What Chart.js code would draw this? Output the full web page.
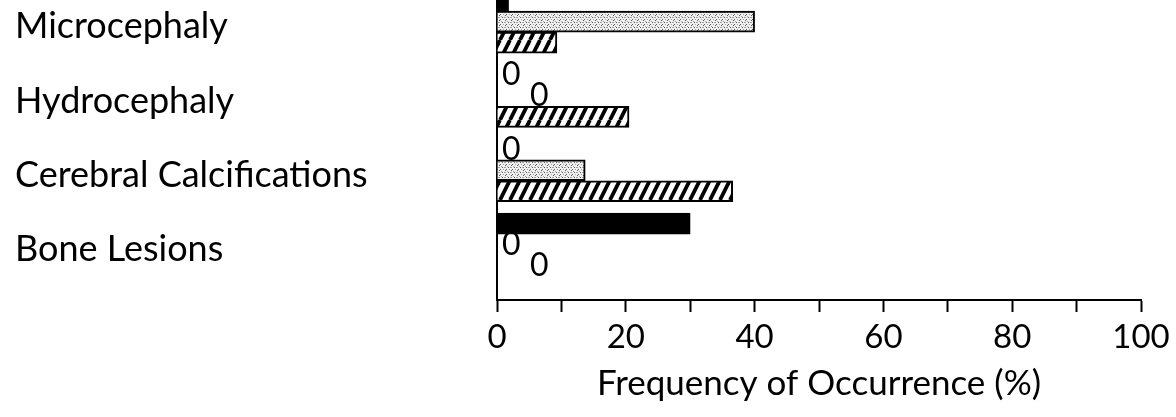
<!DOCTYPE html>
<html>
<head>
<meta charset="utf-8">
<script src="https://cdn.jsdelivr.net/npm/chart.js@4/dist/chart.umd.min.js"></script>
<style>
  html, body { margin: 0; padding: 0; background: #fff; }
  #wrap { width: 1176px; height: 417px; }
</style>
</head>
<body>
<div id="wrap"><canvas id="chart" width="1176" height="417"></canvas></div>
<script>
'use strict';

// categories, top to bottom
var categories = ['Microcephaly', 'Hydrocephaly', 'Cerebral Calcifications', 'Bone Lesions'];

// three series per category (solid, stippled, hatched), % occurrence
var solidValues = [1.8, 0, 0, 30];
var stippledValues = [40, 0, 13.7, 0];
var hatchedValues = [9.3, 20.5, 36.6, 0];

var xTicks = [0, 20, 40, 60, 80, 100];

var FONT = 'Lato';
var INK = '#000';

// light speckled texture
function stipplePattern() {
  var c = document.createElement('canvas');
  c.width = 6; c.height = 5;
  var g = c.getContext('2d');
  g.fillStyle = '#f0f0f0';
  g.fillRect(0, 0, 6, 5);
  g.fillStyle = '#5a5a5a';
  g.fillRect(1, 0, 1, 1);
  g.fillRect(4, 2, 1, 1);
  g.fillRect(2, 4, 1, 1);
  g.fillStyle = '#a0a0a0';
  g.fillRect(0, 2, 2, 1);
  g.fillRect(3, 1, 1, 1);
  g.fillRect(5, 4, 1, 1);
  return g.createPattern(c, 'repeat');
}

// "/" diagonal hatch
function hatchPattern() {
  var c = document.createElement('canvas');
  c.width = 10; c.height = 20;
  var g = c.getContext('2d');
  g.fillStyle = '#fff';
  g.fillRect(0, 0, 10, 20);
  g.strokeStyle = '#000';
  g.lineWidth = 3.8;
  [-10, 0, 10].forEach(function (dx) {
    g.beginPath();
    g.moveTo(dx, 20);
    g.lineTo(dx + 10, 0);
    g.stroke();
  });
  return g.createPattern(c, 'repeat');
}

// writes "0" next to the axis for empty bars
var zeroLabels = {
  id: 'zeroLabels',
  afterDatasetsDraw: function (chart) {
    var ctx = chart.ctx;
    var x0 = chart.scales.x.getPixelForValue(0);
    var counts = {};
    ctx.save();
    ctx.font = '32px ' + FONT;
    ctx.fillStyle = INK;
    ctx.textAlign = 'left';
    ctx.textBaseline = 'middle';
    chart.data.datasets.forEach(function (ds, di) {
      var meta = chart.getDatasetMeta(di);
      ds.data.forEach(function (v, i) {
        if (v !== 0) return;
        var k = counts[i] || 0;
        counts[i] = k + 1;
        ctx.fillText('0', x0 + 5 + 28 * k, meta.data[i].y);
      });
    });
    ctx.restore();
  }
};

var ctx = document.getElementById('chart');

new Chart(ctx, {
  type: 'bar',
  data: {
    labels: categories.map(function (c, i) { return i; }),
    datasets: [
      {
        label: 'solid',
        data: solidValues,
        backgroundColor: '#000',
        borderColor: '#000',
        borderWidth: 1
      },
      {
        label: 'stippled',
        data: stippledValues,
        backgroundColor: stipplePattern(),
        borderColor: '#000',
        borderWidth: 2
      },
      {
        label: 'hatched',
        data: hatchedValues,
        backgroundColor: hatchPattern(),
        borderColor: '#000',
        borderWidth: 2
      }
    ]
  },
  options: {
    indexAxis: 'y',
    responsive: false,
    animation: false,
    barThickness: 21,
    layout: { padding: { left: 15, right: 35, top: 0, bottom: 0 } },
    plugins: {
      legend: { display: false },
      tooltip: { enabled: false }
    },
    scales: {
      y: {
        type: 'linear',
        reverse: true,
        offset: false,
        min: -0.29,
        max: 3.745,
        afterBuildTicks: function (s) {
          s.ticks = categories.map(function (c, i) { return { value: i }; });
        },
        afterFit: function (s) {
          s.width = 482;
          s.paddingTop = 0;
          s.paddingBottom = 0;
        },
        grid: { display: false, drawTicks: false, offset: false },
        border: { display: true, color: '#000', width: 2 },
        ticks: {
          crossAlign: 'far',
          labelOffset: 5,
          color: INK,
          font: { family: FONT, size: 36 },
          callback: function (v) { return categories[v]; }
        }
      },
      x: {
        type: 'linear',
        min: 0,
        max: 100,
        afterFit: function (s) { s.height = 117; },
        grid: {
          drawOnChartArea: false,
          drawTicks: true,
          tickLength: 12,
          tickWidth: 2,
          tickColor: '#000'
        },
        border: { display: true, color: '#000', width: 2 },
        ticks: {
          stepSize: 10,
          padding: 6,
          maxRotation: 0,
          autoSkip: false,
          color: INK,
          font: { family: FONT, size: 33 },
          callback: function (v) { return xTicks.indexOf(v) >= 0 ? String(v) : ''; }
        },
        title: {
          display: true,
          text: 'Frequency of Occurrence (%)',
          color: INK,
          font: { family: FONT, size: 35 },
          padding: { top: 0, bottom: 12 }
        }
      }
    }
  },
  plugins: [zeroLabels]
});
</script>
</body>
</html>
